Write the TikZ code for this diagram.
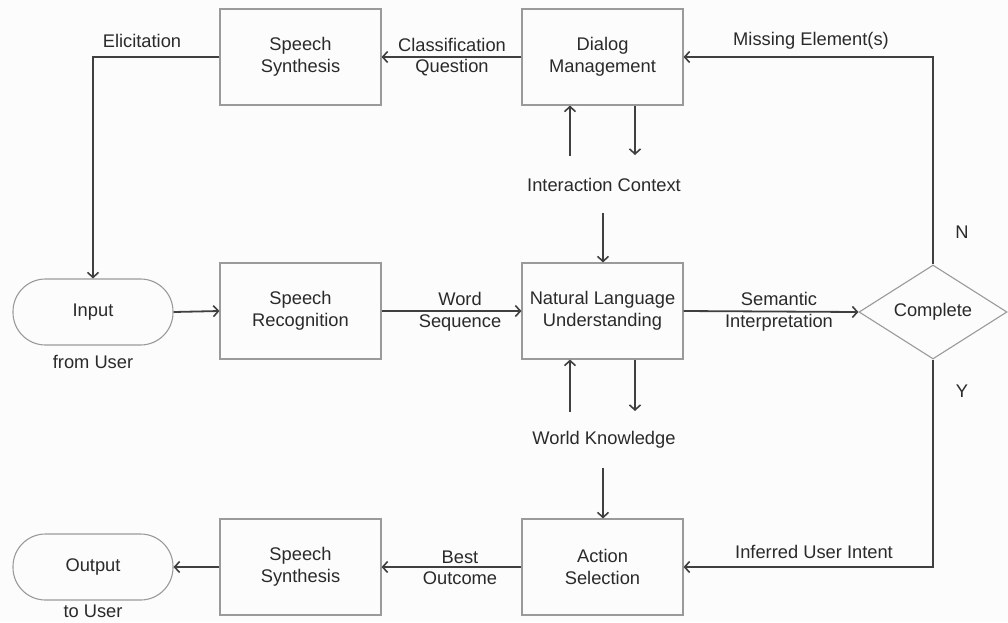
\documentclass[tikz,border=0pt]{standalone}
\usepackage{fontspec}
\setmainfont{Liberation Sans}
\usetikzlibrary{arrows.meta,shapes.geometric,calc}
\definecolor{linec}{HTML}{404040}
\definecolor{boxc}{HTML}{9A9A9A}
\definecolor{txtc}{HTML}{2A2A2A}
\tikzset{
  every node/.style={text=txtc, font=\fontsize{18.3}{21.5}\selectfont},
  blockbox/.style={draw=boxc, line width=1.1pt, minimum width=161pt, minimum height=96pt, inner sep=0pt, align=center},
  pill/.style={draw=boxc, line width=1.1pt, rectangle, rounded corners=32.5pt, minimum width=160pt, minimum height=66pt, inner sep=0pt},
  decide/.style={draw=boxc, line width=1.1pt, diamond, minimum width=148pt, minimum height=94pt, inner sep=0pt, aspect=1.57},
  conn/.style={draw=linec, line width=1.8pt},
  arr/.style={conn, -{Straight Barb[length=5pt,width=11pt,line width=1.6pt]}},
  lbl/.style={align=center, inner sep=0pt}
}
\begin{document}
\begin{tikzpicture}[x=1pt,y=-1pt]
\fill[white!99!black] (0,0) rectangle (1008,622);
\useasboundingbox (0,0) rectangle (1008,622);

% blocks
\node[blockbox] (ss1) at (300.5,57) {Speech\\Synthesis};
\node[blockbox] (dm) at (602.5,57) {Dialog\\Management};
\node[blockbox] (sr) at (300.5,311) {Speech\\Recognition};
\node[blockbox] (nlu) at (602.5,311) {Natural Language\\Understanding};
\node[blockbox] (ss2) at (300.5,567) {Speech\\Synthesis};
\node[blockbox] (as) at (602.5,567) {Action\\Selection};
\node[pill] (in) at (93,312) {Input};
\node[pill] (out) at (93,567) {Output};
\node[decide] (cmp) at (933,312) {Complete};

% free texts
\node[lbl] (fu) at (93,362) {from User};
\node[lbl] (tu) at (93,611.5) {to User};
\node[lbl] (ic) at (604,185) {Interaction Context};
\node[lbl] (wk) at (604,440) {World Knowledge};

% main flow
\draw[arr] (dm.west) -- (ss1.east);
\draw[arr] (ss1.west) -| (in.north);
\draw[arr] (in.east) -- (sr.west);
\draw[arr] (sr.east) -- (nlu.west);
\draw[arr] (nlu.east) -- (cmp.west);
\draw[arr] (cmp.north) |- (dm.east);
\draw[arr] (cmp.south) |- (as.east);
\draw[arr] (as.west) -- (ss2.east);
\draw[arr] (ss2.west) -- (out.east);

% context arrows
\coordinate (icu) at (570,156);
\coordinate (icd) at (635,155);
\coordinate (icb) at (603,213);
\draw[arr] (icu) -- (icu |- dm.south);
\draw[arr] (icd |- dm.south) -- (icd);
\draw[arr] (icb) -- (icb |- nlu.north);
\coordinate (wku) at (570,412);
\coordinate (wkd) at (635,411);
\coordinate (wkb) at (603,468);
\draw[arr] (wku) -- (wku |- nlu.south);
\draw[arr] (wkd |- nlu.south) -- (wkd);
\draw[arr] (wkb) -- (wkb |- as.north);

% connector labels
\node[lbl] (l1) at (142,41) {Elicitation};
\node[lbl] (l2) at (452,57) {Classification\\Question};
\node[lbl] (l3) at (811,41) {Missing Element(s)};
\node[lbl] (l4) at (460,312) {Word\\Sequence};
\node[lbl] (l5) at (779,312) {Semantic\\Interpretation};
\node[lbl] (l6) at (460,568) {Best\\Outcome};
\node[lbl] (l7) at (814,552) {Inferred User Intent};
\node[lbl] (ln) at (962,232) {N};
\node[lbl] (ly) at (962,391) {Y};
\end{tikzpicture}
\end{document}
